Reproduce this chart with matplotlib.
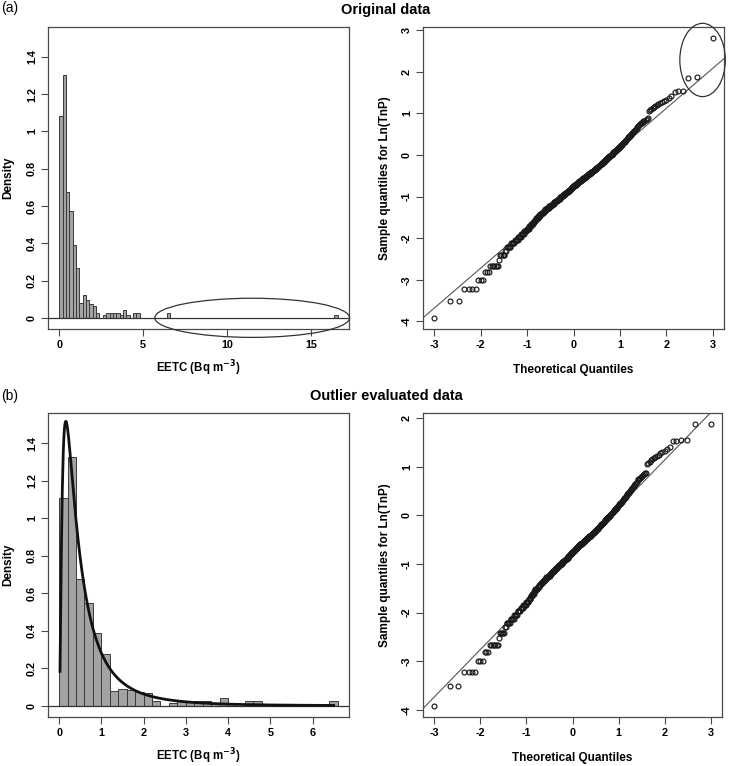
import matplotlib
matplotlib.use("Agg")
import matplotlib.pyplot as plt
import numpy as np
from matplotlib.patches import Ellipse
from matplotlib.ticker import FuncFormatter
from statistics import NormalDist

plt.rcParams["font.family"] = ["Liberation Sans", "DejaVu Sans"]

# ---- histograms (density, bin width 0.2 Bq m-3) ----
BIN_WIDTH = 0.2
HIST_A_LEFT = [0.0, 0.2, 0.4, 0.6, 0.8, 1.0, 1.2, 1.4, 1.6, 1.8, 2.0, 2.2,
               2.6, 2.8, 3.0, 3.2, 3.4, 3.6, 3.8, 4.0, 4.4, 4.6, 6.4, 16.4]
HIST_A_DENSITY = [1.08, 1.30, 0.675, 0.575, 0.39, 0.265, 0.077, 0.125, 0.098,
                  0.076, 0.063, 0.027, 0.013, 0.027, 0.027, 0.027, 0.027,
                  0.013, 0.040, 0.013, 0.027, 0.027, 0.027, 0.013]
HIST_A_RANGE = (0.0, 16.6)

HIST_B_LEFT = [0.0, 0.2, 0.4, 0.6, 0.8, 1.0, 1.2, 1.4, 1.6, 1.8, 2.0, 2.2,
               2.6, 2.8, 3.0, 3.2, 3.4, 3.6, 3.8, 4.0, 4.4, 4.6, 6.4]
HIST_B_DENSITY = [1.108, 1.327, 0.676, 0.547, 0.39, 0.274, 0.079, 0.089, 0.084,
                  0.075, 0.066, 0.027, 0.013, 0.027, 0.027, 0.027, 0.027,
                  0.013, 0.040, 0.013, 0.027, 0.027, 0.027]
HIST_B_RANGE = (0.0, 6.6)

# fitted log-normal drawn over panel (b)
FIT_MU = -0.835
FIT_SIGMA = 1.005
FIT_FROM, FIT_TO = 0.02, 6.5

# ---- QQ samples: TnP values (0.01 resolution) and how often each occurs ----
TNP_GRID = np.round(np.arange(0.02, 1.005, 0.01), 2)
TNP_GRID_COUNTS = [
    1, 2, 4, 3, 3, 7, 1, 5, 2,
    5, 5, 5, 5, 5, 5, 5, 4, 4, 4,
    3, 5, 4, 4, 5, 5, 5, 5, 5, 5,
    4, 5, 4, 5, 4, 5, 4, 4, 4, 4,
    4, 4, 4, 3, 3, 3, 3, 4, 3, 3,
    3, 3, 2, 3, 3, 4, 2, 4, 3, 2,
    3, 2, 3, 2, 3, 3, 2, 3, 2, 2,
    2, 2, 2, 2, 2, 2, 1, 2, 1, 2,
    1, 2, 1, 2, 1, 2, 1, 1, 1, 1,
    1, 1, 2, 1, 1, 1, 2, 1, 1, 1,
]
TNP_UPPER = [
    1.01, 1.02, 1.03, 1.05, 1.06, 1.07, 1.08, 1.09, 1.10,
    1.11, 1.12, 1.14, 1.15, 1.16, 1.17, 1.19, 1.20,
    1.21, 1.23, 1.25, 1.26, 1.28, 1.30, 1.32, 1.34, 1.36, 1.38, 1.40,
    1.42, 1.44, 1.47, 1.49, 1.52, 1.54, 1.57, 1.59,
    1.63, 1.66, 1.70, 1.73, 1.76, 1.79,
    1.84, 1.88, 1.92, 1.96, 1.99,
    2.05, 2.09, 2.13, 2.17, 2.20, 2.24, 2.28, 2.32, 2.37, 2.41,
    2.86, 2.94, 3.01, 3.09, 3.16, 3.24, 3.32, 3.40, 3.48, 3.57, 3.66,
    3.78, 3.92, 4.10,
    4.57, 4.62, 4.66,
]
TNP_TOP_A = [6.4, 6.5, 16.5]     # original data
TNP_TOP_B = [4.71, 6.5, 6.5]     # outlier evaluated data

# reference lines (intercept, slope) as drawn
QQ_LINE_A = (-0.80, 0.96)
QQ_LINE_B = (-0.81, 0.975)

W, H = 729, 766
EDGE = "#3a3a3a"


def box(l, t, r, b):
    return [l / W, 1 - b / H, (r - l) / W, (b - t) / H]


def style(ax):
    for s in ax.spines.values():
        s.set_color("#4a4a4a")
        s.set_linewidth(0.9)
    ax.tick_params(direction="out", length=5, width=0.8, color="#4a4a4a",
                   labelsize=7.8, pad=3)
    for lab in ax.get_xticklabels() + ax.get_yticklabels():
        lab.set_fontweight("bold")
    for lab in ax.get_yticklabels():
        lab.set_rotation(90)
        lab.set_va("center")


def r_range(lo, hi):
    d = (hi - lo) * 0.04
    return lo - d, hi + d


fmt = FuncFormatter(lambda v, _: f"{v:g}")


def histogram(ax, left, dens, xr, xticks, fit=False):
    ax.bar(left, dens, width=BIN_WIDTH, align="edge", color="#a3a3a3",
           edgecolor=EDGE, linewidth=0.7, zorder=2)
    ax.axhline(0, color="#333333", lw=0.9, zorder=3)
    if fit:
        x = np.linspace(FIT_FROM, FIT_TO, 600)
        y = np.exp(-(np.log(x) - FIT_MU) ** 2 / (2 * FIT_SIGMA ** 2)) / (
            x * FIT_SIGMA * np.sqrt(2 * np.pi))
        ax.plot(x, y, color="#111111", lw=2.0, zorder=4)
    ax.set_xlim(*r_range(*xr))
    ax.set_ylim(*r_range(0, 1.5))
    ax.set_xticks(xticks)
    ax.set_yticks([0, 0.2, 0.4, 0.6, 0.8, 1.0, 1.2, 1.4])
    ax.xaxis.set_major_formatter(fmt)
    ax.yaxis.set_major_formatter(fmt)
    ax.set_xlabel("EETC (Bq m$^{\\mathbf{-3}}$)", fontsize=8.3,
                  fontweight="bold", labelpad=6)
    ax.set_ylabel("Density", fontsize=8.5, fontweight="bold", labelpad=9)
    style(ax)


def qqplot(ax, top, line, yticks):
    vals = np.concatenate([np.repeat(TNP_GRID, TNP_GRID_COUNTS), TNP_UPPER, top])
    y = np.sort(np.log(vals))
    n = len(y)
    nd = NormalDist()
    q = np.array([nd.inv_cdf((i - 0.5) / n) for i in range(1, n + 1)])
    ax.plot(q, y, "o", ms=3.5, mfc="none", mec="#1a1a1a", mew=0.85, zorder=3)
    ax.set_xlim(*r_range(q.min(), q.max()))
    ax.set_ylim(*r_range(y.min(), y.max()))
    ax.axline((0, line[0]), slope=line[1], color="#555555", lw=0.8, zorder=2)
    ax.set_xticks([-3, -2, -1, 0, 1, 2, 3])
    ax.set_yticks(yticks)
    ax.xaxis.set_major_formatter(fmt)
    ax.yaxis.set_major_formatter(fmt)
    ax.set_xlabel("Theoretical Quantiles", fontsize=8.5, fontweight="bold",
                  labelpad=10)
    ax.set_ylabel("Sample quantiles for Ln(TnP)", fontsize=8.5,
                  fontweight="bold", labelpad=8)
    style(ax)


fig = plt.figure(figsize=(W / 100, H / 100), dpi=100)

ax1 = fig.add_axes(box(48, 27, 349, 329))
histogram(ax1, HIST_A_LEFT, HIST_A_DENSITY, HIST_A_RANGE, [0, 5, 10, 15])
ax1.add_patch(Ellipse((11.5, 0.0), 11.6, 0.21, fill=False, ec="#333333",
                      lw=0.9, clip_on=False, zorder=5))

ax2 = fig.add_axes(box(423, 27, 724, 329))
qqplot(ax2, TNP_TOP_A, QQ_LINE_A, [-4, -3, -2, -1, 0, 1, 2, 3])
ax2.add_patch(Ellipse((2.78, 2.28), 0.98, 1.76, fill=False, ec="#333333",
                      lw=0.9, clip_on=False, zorder=5))

ax3 = fig.add_axes(box(48, 413, 349, 717))
histogram(ax3, HIST_B_LEFT, HIST_B_DENSITY, HIST_B_RANGE,
          [0, 1, 2, 3, 4, 5, 6], fit=True)

ax4 = fig.add_axes(box(423, 413, 722, 717))
qqplot(ax4, TNP_TOP_B, QQ_LINE_B, [-4, -3, -2, -1, 0, 1, 2])

fig.text(386 / W, 1 - 10 / H, "Original data", ha="center", va="center",
         fontsize=10.5, fontweight="bold")
fig.text(386 / W, 1 - 396 / H, "Outlier evaluated data", ha="center",
         va="center", fontsize=10.5, fontweight="bold")
fig.text(1 / W, 1 - 8 / H, "(a)", ha="left", va="center", fontsize=10)
fig.text(1 / W, 1 - 396 / H, "(b)", ha="left", va="center", fontsize=10)

fig.savefig("out.png", dpi=100)
